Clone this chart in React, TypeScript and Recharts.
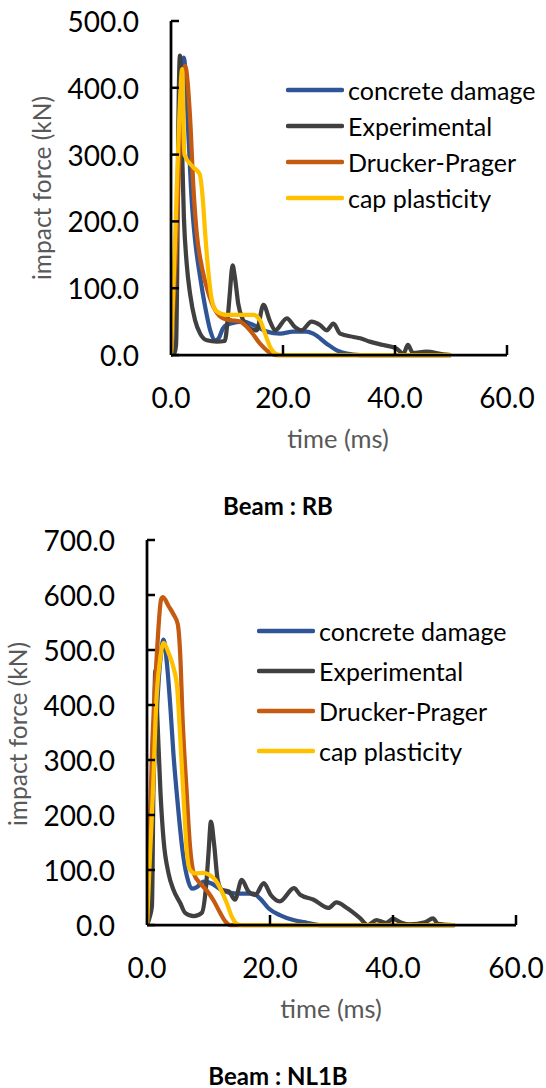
import React from 'react';
import { LineChart, Line, XAxis, YAxis, Legend, Label } from 'recharts';

type P = { t: number; f: number };

// ---------- Beam : RB ----------
const rbConcreteDamage: P[] = [
  { t: 0, f: 0 }, { t: 1.0, f: 200 }, { t: 1.8, f: 400 }, { t: 2.3, f: 445 }, { t: 3.1, f: 331 },
  { t: 3.7, f: 231 }, { t: 4.3, f: 172 }, { t: 5.2, f: 117 }, { t: 6.1, f: 72 }, { t: 7.0, f: 37 },
  { t: 7.9, f: 22 }, { t: 8.5, f: 25 }, { t: 9.3, f: 40 }, { t: 10.5, f: 47 }, { t: 12.9, f: 50 },
  { t: 14.7, f: 45 }, { t: 17.1, f: 35 }, { t: 19.5, f: 32 }, { t: 21.8, f: 35 }, { t: 24.2, f: 35 },
  { t: 25.4, f: 32 }, { t: 27.8, f: 17 }, { t: 29.6, f: 7 }, { t: 31.4, f: 2 }, { t: 33.8, f: 0 },
  { t: 50, f: 0 },
];
const rbExperimental: P[] = [
  { t: 0, f: 0 }, { t: 0.6, f: 3 }, { t: 0.9, f: 15 }, { t: 1.1, f: 120 }, { t: 1.3, f: 330 },
  { t: 1.6, f: 448 }, { t: 1.9, f: 331 }, { t: 2.3, f: 206 }, { t: 2.8, f: 137 }, { t: 3.4, f: 92 },
  { t: 4.3, f: 52 }, { t: 5.2, f: 32 }, { t: 6.4, f: 22 }, { t: 8.2, f: 20 }, { t: 9.6, f: 21 },
  { t: 10.2, f: 62 }, { t: 10.5, f: 92 }, { t: 11.0, f: 134 }, { t: 11.4, f: 117 }, { t: 12.0, f: 77 },
  { t: 12.9, f: 52 }, { t: 14.1, f: 40 }, { t: 15.3, f: 37 }, { t: 16.5, f: 75 }, { t: 17.7, f: 50 },
  { t: 18.6, f: 37 }, { t: 20.7, f: 55 }, { t: 22.1, f: 42 }, { t: 23.3, f: 37 }, { t: 25.1, f: 50 },
  { t: 26.6, f: 45 }, { t: 27.8, f: 37 }, { t: 29.0, f: 47 }, { t: 30.2, f: 32 }, { t: 32.6, f: 27 },
  { t: 33.8, f: 25 }, { t: 35.5, f: 20 }, { t: 37.9, f: 15 }, { t: 40.2, f: 10 }, { t: 41.5, f: 2 },
  { t: 42.3, f: 15 }, { t: 43.2, f: 3 }, { t: 45.6, f: 5 }, { t: 48.6, f: 1 }, { t: 50, f: 0 },
];
const rbDruckerPrager: P[] = [
  { t: 0, f: 0 }, { t: 1.0, f: 180 }, { t: 2.0, f: 400 }, { t: 2.5, f: 433 }, { t: 3.4, f: 356 },
  { t: 4.0, f: 251 }, { t: 4.6, f: 182 }, { t: 5.5, f: 132 }, { t: 6.7, f: 92 }, { t: 7.9, f: 67 },
  { t: 9.3, f: 55 }, { t: 10.8, f: 52 }, { t: 12.3, f: 50 }, { t: 14.1, f: 37 }, { t: 15.9, f: 17 },
  { t: 17.4, f: 5 }, { t: 18.9, f: 0 }, { t: 50, f: 0 },
];
const rbCapPlasticity: P[] = [
  { t: 0, f: 0 }, { t: 0.8, f: 190 }, { t: 1.5, f: 360 }, { t: 2.0, f: 428 }, { t: 2.4, f: 300 },
  { t: 4.0, f: 281 }, { t: 5.1, f: 271 }, { t: 5.7, f: 231 }, { t: 6.1, f: 182 }, { t: 6.7, f: 122 },
  { t: 7.3, f: 82 }, { t: 8.2, f: 65 }, { t: 9.9, f: 60 }, { t: 14.7, f: 60 }, { t: 15.9, f: 52 },
  { t: 16.8, f: 32 }, { t: 17.7, f: 12 }, { t: 18.9, f: 1 }, { t: 19.8, f: 0 }, { t: 50, f: 0 },
];

// ---------- Beam : NL1B ----------
const nlConcreteDamage: P[] = [
  { t: 0, f: 0 }, { t: 1.0, f: 250 }, { t: 2.0, f: 460 }, { t: 2.7, f: 519 }, { t: 3.2, f: 480 },
  { t: 3.8, f: 396 }, { t: 4.3, f: 311 }, { t: 5.0, f: 220 }, { t: 5.7, f: 142 }, { t: 6.5, f: 88 },
  { t: 7.3, f: 66 }, { t: 8.1, f: 69 }, { t: 9.2, f: 79 }, { t: 10.6, f: 75 }, { t: 11.9, f: 65 },
  { t: 13.3, f: 59 }, { t: 15.2, f: 57 }, { t: 17.3, f: 57 }, { t: 18.4, f: 48 }, { t: 19.8, f: 30 },
  { t: 21.6, f: 18 }, { t: 23.8, f: 9 }, { t: 26.0, f: 4 }, { t: 28.1, f: 0 }, { t: 50, f: 0 },
];
const nlExperimental: P[] = [
  { t: 0, f: 0 }, { t: 0.4, f: 13 }, { t: 0.8, f: 34 }, { t: 1.1, f: 311 }, { t: 1.35, f: 462 },
  { t: 1.7, f: 372 }, { t: 2.2, f: 239 }, { t: 2.7, f: 154 }, { t: 3.5, f: 94 }, { t: 4.3, f: 64 },
  { t: 5.4, f: 40 }, { t: 6.2, f: 22 }, { t: 7.6, f: 16 }, { t: 8.9, f: 22 }, { t: 9.6, f: 70 },
  { t: 10.0, f: 130 }, { t: 10.4, f: 188 }, { t: 10.9, f: 148 }, { t: 11.5, f: 82 }, { t: 12.2, f: 64 },
  { t: 13.3, f: 61 }, { t: 14.3, f: 46 }, { t: 15.4, f: 82 }, { t: 16.5, f: 61 }, { t: 17.6, f: 55 },
  { t: 19.0, f: 76 }, { t: 20.1, f: 55 }, { t: 21.6, f: 43 }, { t: 23.9, f: 67 }, { t: 24.9, f: 55 },
  { t: 27.1, f: 46 }, { t: 29.5, f: 31 }, { t: 30.8, f: 41 }, { t: 32.5, f: 31 }, { t: 34.6, f: 13 },
  { t: 35.9, f: 0 }, { t: 37.3, f: 9 }, { t: 38.9, f: 4 }, { t: 40.0, f: 11 }, { t: 41.4, f: 4 },
  { t: 42.7, f: 1 }, { t: 45.2, f: 5 }, { t: 46.5, f: 12 }, { t: 47.3, f: 2 }, { t: 49.7, f: 0 },
];
const nlDruckerPrager: P[] = [
  { t: 0, f: 0 }, { t: 0.8, f: 311 }, { t: 1.6, f: 492 }, { t: 2.3, f: 592 }, { t: 2.6, f: 596 },
  { t: 3.5, f: 580 }, { t: 4.3, f: 565 }, { t: 5.0, f: 547 }, { t: 5.4, f: 492 }, { t: 5.8, f: 371 },
  { t: 6.4, f: 251 }, { t: 7.0, f: 142 }, { t: 7.6, f: 94 }, { t: 8.7, f: 75 }, { t: 9.7, f: 63 },
  { t: 10.8, f: 45 }, { t: 11.9, f: 22 }, { t: 12.7, f: 7 }, { t: 13.5, f: 0 }, { t: 50, f: 0 },
];
const nlCapPlasticity: P[] = [
  { t: 0, f: 0 }, { t: 0.5, f: 130 }, { t: 1.0, f: 251 }, { t: 1.5, f: 402 }, { t: 2.1, f: 480 },
  { t: 2.7, f: 513 }, { t: 3.5, f: 495 }, { t: 4.3, f: 468 }, { t: 4.9, f: 432 }, { t: 5.4, f: 341 },
  { t: 6.0, f: 220 }, { t: 6.5, f: 130 }, { t: 7.0, f: 100 }, { t: 7.8, f: 94 }, { t: 9.2, f: 95 },
  { t: 10.0, f: 92 }, { t: 11.1, f: 82 }, { t: 12.2, f: 60 }, { t: 13.0, f: 39 }, { t: 13.8, f: 15 },
  { t: 14.6, f: 2 }, { t: 15.4, f: 0 }, { t: 50, f: 0 },
];

const seriesNames = ['concrete damage', 'Experimental', 'Drucker-Prager', 'cap plasticity'];
const seriesColors = ['#2F5597', '#404040', '#C55A11', '#FFC000'];
const xTicks = [0, 20, 40, 60];
const yTicksRB = [0, 100, 200, 300, 400, 500];
const yTicksNL = [0, 100, 200, 300, 400, 500, 600, 700];

const FONT = 'Lato, "Open Sans", sans-serif';

const YTick = (props: any) => {
  const { x, y, payload } = props;
  return (
    <g>
      <line x1={x} x2={x + 8} y1={y} y2={y} stroke="#000" strokeWidth={2.5} />
      <text x={x - 32} y={y} textAnchor="end" dominantBaseline="central" fontFamily={FONT} fontSize={28} fill="#000">
        {Number(payload.value).toFixed(1)}
      </text>
    </g>
  );
};

const XTick = (props: any) => {
  const { x, y, payload } = props;
  return (
    <g>
      {payload.value !== 0 && <line x1={x} x2={x} y1={y - 10} y2={y} stroke="#000" strokeWidth={2.5} />}
      <text x={x} y={y + 42} textAnchor="middle" dominantBaseline="central" fontFamily={FONT} fontSize={28} fill="#000">
        {Number(payload.value).toFixed(1)}
      </text>
    </g>
  );
};

const makeLegend = (rowH: number, lineW: number) => (props: any) => {
  const payload = [...(props.payload || [])].sort(
    (a: any, b: any) => seriesNames.indexOf(a.value) - seriesNames.indexOf(b.value)
  );
  return (
    <div style={{ fontFamily: FONT }}>
      {payload.map((e: any) => (
        <div key={e.value} style={{ display: 'flex', alignItems: 'center', height: rowH }}>
          <svg width={lineW} height={rowH} style={{ display: 'block' }}>
            <line x1={2} x2={lineW - 2} y1={rowH / 2} y2={rowH / 2} stroke={e.color} strokeWidth={4.5} strokeLinecap="round" />
          </svg>
          <span style={{ marginLeft: 4, fontSize: 25, color: '#000', lineHeight: rowH + 'px', whiteSpace: 'nowrap' }}>{e.value}</span>
        </div>
      ))}
    </div>
  );
};

type ChartProps = {
  data: P[][];
  yMax: number;
  yTicks: number[];
  width: number;
  height: number;
  margin: { top: number; right: number; bottom: number; left: number };
  yTitle: { x: number; y: number };
  xTitle: { x: number; y: number };
  caption: { x: number; y: number; text: string };
  legend: { left: number; top: number; rowH: number; lineW: number };
};

function ForceChart(p: ChartProps) {
  return (
    <LineChart width={p.width} height={p.height} margin={p.margin}>
      <XAxis
        dataKey="t"
        type="number"
        domain={[0, 60]}
        ticks={xTicks}
        interval={0}
        height={2}
        tickSize={0}
        tickMargin={0}
        tick={<XTick />}
        axisLine={{ stroke: '#000', strokeWidth: 2.75 }}
        tickLine={false}
        allowDataOverflow
      >
        <Label
          content={() => (
            <g>
              <text x={p.xTitle.x} y={p.xTitle.y} textAnchor="middle" dominantBaseline="central" fontFamily={FONT} fontSize={25.5} fill="#595959">
                time (ms)
              </text>
              <text x={p.caption.x} y={p.caption.y} textAnchor="middle" dominantBaseline="central" fontFamily={FONT} fontWeight={700} fontSize={24} fill="#000">
                {p.caption.text}
              </text>
            </g>
          )}
        />
      </XAxis>
      <YAxis
        type="number"
        domain={[0, p.yMax]}
        ticks={p.yTicks}
        interval={0}
        width={2}
        tickSize={0}
        tickMargin={0}
        tick={<YTick />}
        axisLine={{ stroke: '#000', strokeWidth: 2.75 }}
        tickLine={false}
      >
        <Label
          content={() => (
            <text
              x={p.yTitle.x}
              y={p.yTitle.y}
              transform={`rotate(-90 ${p.yTitle.x} ${p.yTitle.y})`}
              textAnchor="middle"
              dominantBaseline="central"
              fontFamily={FONT}
              fontSize={24.5}
              fill="#595959"
            >
              impact force (kN)
            </text>
          )}
        />
      </YAxis>
      <Legend
        layout="vertical"
        align="center"
        verticalAlign="middle"
        content={makeLegend(p.legend.rowH, p.legend.lineW)}
        wrapperStyle={{ left: p.legend.left, top: p.legend.top, width: 260, height: p.legend.rowH * 4 }}
      />
      {p.data.map((d, i) => (
        <Line
          key={seriesNames[i]}
          data={d}
          dataKey="f"
          name={seriesNames[i]}
          type="monotone"
          stroke={seriesColors[i]}
          strokeWidth={4.25}
          dot={false}
          activeDot={false}
          isAnimationActive={false}
        />
      ))}
    </LineChart>
  );
}

export default function App() {
  return (
    <div style={{ position: 'absolute', left: 0, top: 0, width: 546, height: 1088, background: '#fff' }}>
      <div style={{ position: 'absolute', left: 0, top: 0 }}>
        <ForceChart
          data={[rbConcreteDamage, rbExperimental, rbDruckerPrager, rbCapPlasticity]}
          yMax={500}
          yTicks={yTicksRB}
          width={546}
          height={520}
          margin={{ top: 21, right: 39, bottom: 163, left: 169 }}
          yTitle={{ x: 41, y: 188 }}
          xTitle={{ x: 338, y: 438 }}
          caption={{ x: 278, y: 505, text: 'Beam : RB' }}
          legend={{ left: 286, top: 72, rowH: 36, lineW: 58 }}
        />
      </div>
      <div style={{ position: 'absolute', left: 0, top: 520 }}>
        <ForceChart
          data={[nlConcreteDamage, nlExperimental, nlDruckerPrager, nlCapPlasticity]}
          yMax={700}
          yTicks={yTicksNL}
          width={546}
          height={568}
          margin={{ top: 20, right: 30, bottom: 161, left: 145 }}
          yTitle={{ x: 17, y: 214 }}
          xTitle={{ x: 331, y: 488 }}
          caption={{ x: 278, y: 555, text: 'Beam : NL1B' }}
          legend={{ left: 257, top: 91, rowH: 40, lineW: 58 }}
        />
      </div>
    </div>
  );
}
